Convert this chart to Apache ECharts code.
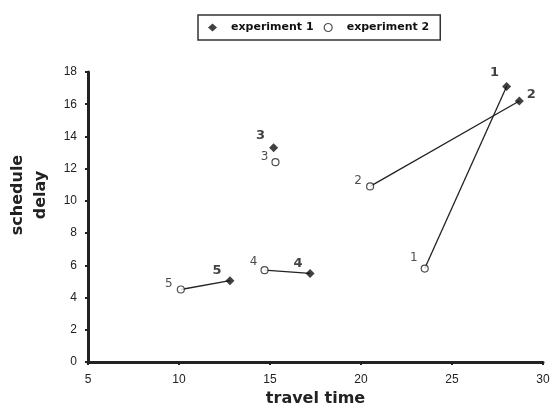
<!DOCTYPE html>
<html>
<head>
<meta charset="utf-8">
<script src="https://cdn.jsdelivr.net/npm/echarts@6/dist/echarts.min.js"></script>
<style>html,body{margin:0;padding:0;background:#fff;}#c{width:553px;height:414px;}</style>
</head>
<body>
<div id="c"></div>
<script>
// Data
var pointIds = ['1', '2', '3', '4', '5'];
var exp1X = [28.0, 28.7, 15.2, 17.2, 12.8];
var exp1Y = [17.1, 16.2, 13.3, 5.5, 5.05];
var exp2X = [23.5, 20.5, 15.3, 14.7, 10.1];
var exp2Y = [5.8, 10.9, 12.4, 5.7, 4.5];
var connected = ['1', '2', '4', '5'];
var xTicks = [5, 10, 15, 20, 25, 30];
var yTicks = [0, 2, 4, 6, 8, 10, 12, 14, 16, 18];

// label placement (style, not data)
var exp1LabelOffset = {'1': [-12, -14], '2': [12, -6], '3': [-13, -12], '4': [-12, -10], '5': [-13, -10]};
var exp2LabelOffset = {'1': [-11, -11], '2': [-12, -6], '3': [-11, -5], '4': [-11, -8], '5': [-12, -6]};

var FONT = '"DejaVu Sans", "Liberation Sans", sans-serif';

function pts(xs, ys) {
  return pointIds.map(function (id, i) { return { value: [xs[i], ys[i]], name: id }; });
}

var series = [];
connected.forEach(function (id) {
  var i = pointIds.indexOf(id);
  series.push({
    type: 'line',
    silent: true,
    symbol: 'none',
    data: [[exp1X[i], exp1Y[i]], [exp2X[i], exp2Y[i]]],
    lineStyle: { color: '#222', width: 1.3 },
    z: 1
  });
});

series.push({
  name: 'experiment 1',
  type: 'scatter',
  symbol: 'diamond',
  symbolSize: 9,
  itemStyle: { color: '#111' },
  data: pts(exp1X, exp1Y).map(function (d) {
    d.label = { offset: exp1LabelOffset[d.name] };
    return d;
  }),
  label: {
    show: true, position: 'inside', formatter: '{b}',
    fontFamily: FONT, fontWeight: 'bold', fontSize: 13, color: '#111'
  },
  z: 3
});

series.push({
  name: 'experiment 2',
  type: 'scatter',
  symbol: 'circle',
  symbolSize: 7,
  itemStyle: { color: '#fff', borderColor: '#222', borderWidth: 1.2 },
  data: pts(exp2X, exp2Y).map(function (d) {
    d.label = { offset: exp2LabelOffset[d.name] };
    return d;
  }),
  label: {
    show: true, position: 'inside', formatter: '{b}',
    fontFamily: FONT, fontSize: 12, color: '#222'
  },
  z: 3
});

var chart = echarts.init(document.getElementById('c'));
chart.setOption({
  backgroundColor: '#fff',
  animation: false,
  legend: {
    left: 198, top: 15,
    padding: [7, 11, 7, 10],
    borderColor: '#333', borderWidth: 1.5,
    itemGap: 10, itemWidth: 9, itemHeight: 8,
    textStyle: { fontFamily: FONT, fontWeight: 'bold', fontSize: 11, color: '#111', padding: [0, 0, 0, 9] },
    data: [
      { name: 'experiment 1', icon: 'diamond', itemStyle: { color: '#111' } },
      { name: 'experiment 2', icon: 'circle', itemStyle: { color: '#fff', borderColor: '#222', borderWidth: 1.2 } }
    ]
  },
  grid: { left: 88, right: 10, top: 72, bottom: 52, containLabel: false, outerBoundsMode: 'none' },
  xAxis: {
    type: 'value', min: xTicks[0], max: xTicks[xTicks.length - 1], interval: 5,
    name: 'travel time', nameLocation: 'middle', nameGap: 28,
    nameTextStyle: { fontFamily: FONT, fontWeight: 'bold', fontSize: 16, color: '#222' },
    axisLine: { lineStyle: { color: '#222', width: 3 } },
    axisTick: { show: true, length: 3, lineStyle: { color: '#222', width: 2 } },
    axisLabel: { fontFamily: '"Liberation Sans", sans-serif', fontSize: 12, color: '#222', margin: 12 },
    splitLine: { show: false }
  },
  yAxis: {
    type: 'value', min: yTicks[0], max: yTicks[yTicks.length - 1], interval: 2,
    name: 'schedule\ndelay', nameLocation: 'middle', nameGap: 34, nameRotate: 90,
    nameTextStyle: { fontFamily: FONT, fontWeight: 'bold', fontSize: 16, color: '#222', lineHeight: 23, padding: [0, 0, 0, 44] },
    axisLine: { show: true, lineStyle: { color: '#222', width: 3 } },
    axisTick: { show: true, length: 3, lineStyle: { color: '#222', width: 2 } },
    axisLabel: { fontFamily: '"Liberation Sans", sans-serif', fontSize: 12, color: '#222', margin: 11 },
    splitLine: { show: false }
  },
  series: series
});
</script>
</body>
</html>
